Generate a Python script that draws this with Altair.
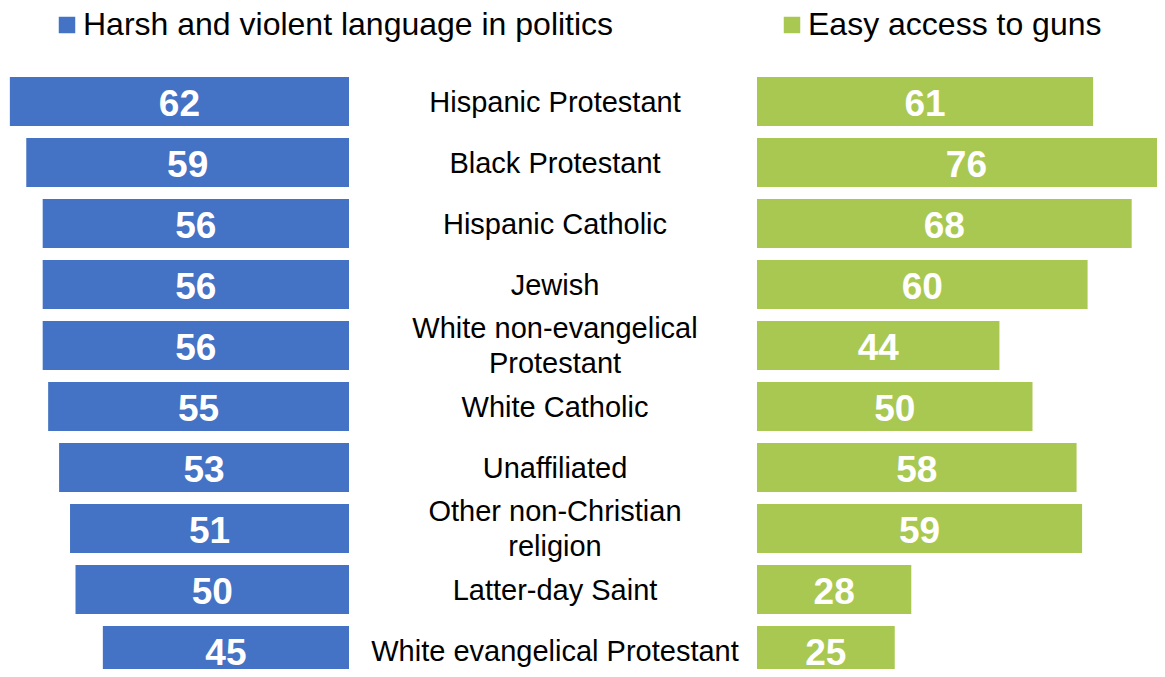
import altair as alt
import pandas as pd

groups = ["Hispanic Protestant", "Black Protestant", "Hispanic Catholic", "Jewish",
          "White non-evangelical\nProtestant", "White Catholic", "Unaffiliated",
          "Other non-Christian\nreligion", "Latter-day Saint", "White evangelical Protestant"]
harsh = [62, 59, 56, 56, 56, 55, 53, 51, 50, 45]
guns = [61, 76, 68, 60, 44, 50, 58, 59, 28, 25]
series = ["Harsh and violent language in politics", "Easy access to guns"]
colors = ["#4472C4", "#A9C851"]

F = "Liberation Sans"
PXL, PXR = 5.47, 5.51     # pixels per percentage point (left, right)
W, H = 1149, 598          # plot area
LEFT0, RIGHT0 = 341, 749  # zero lines of the two bar groups
TOP = 63
STEP = 61

df = pd.DataFrame({"group": groups, "harsh": harsh, "guns": guns,
                   "s1": series[0], "s2": series[1]})
df["multi"] = df["group"].str.contains("\n")

pin = 12 / STEP
y_enc = alt.Y("group:N", sort=groups, axis=None,
              scale=alt.Scale(paddingInner=pin, paddingOuter=pin / 2,
                              range=[0, STEP * len(groups)]))

xl = alt.Scale(domain=[-(W - LEFT0) / PXL, LEFT0 / PXL], reverse=True, zero=False, nice=False)
xr = alt.Scale(domain=[-RIGHT0 / PXR, (W - RIGHT0) / PXR], zero=False, nice=False)


def legend(x):
    return alt.Legend(orient="none", legendX=x, legendY=-TOP + 1, title=None,
                      symbolType="square", symbolSize=272, symbolStrokeWidth=0,
                      labelFont=F, labelFontSize=32, labelColor="black",
                      labelOffset=0, labelLimit=0, padding=0)


base = alt.Chart(df).transform_calculate(mid_l="datum.harsh / 2", mid_r="datum.guns / 2")

left_bars = base.mark_bar().encode(
    x=alt.X("harsh:Q", scale=xl, axis=None),
    y=y_enc,
    color=alt.Color("s1:N", scale=alt.Scale(domain=[series[0]], range=[colors[0]]),
                    legend=legend(43)),
)
left_text = base.mark_text(color="white", font=F, fontSize=37, fontWeight="bold",
                           baseline="middle", dy=3).encode(
    x=alt.X("mid_l:Q", scale=xl, axis=None), y=y_enc, text="harsh:Q")

right_bars = base.mark_bar().encode(
    x=alt.X("guns:Q", scale=xr, axis=None),
    y=y_enc,
    color=alt.Color("s2:N", scale=alt.Scale(domain=[series[1]], range=[colors[1]]),
                    legend=legend(768)),
)
right_text = base.mark_text(color="white", font=F, fontSize=37, fontWeight="bold",
                            baseline="middle", dy=3).encode(
    x=alt.X("mid_r:Q", scale=xr, axis=None), y=y_enc, text="guns:Q")

label_one = base.transform_filter("!datum.multi").mark_text(
    font=F, fontSize=29, color="black", baseline="middle", dy=1).encode(
    y=y_enc, x=alt.value(547), text="group:N")
label_two = base.transform_filter("datum.multi").mark_text(
    font=F, fontSize=29, lineHeight=35, lineBreak="\n", color="black",
    baseline="middle", dy=-16.5).encode(
    y=y_enc, x=alt.value(547), text="group:N")

chart = (
    alt.layer(left_bars, left_text, right_bars, right_text, label_one, label_two)
    .resolve_scale(x="independent", color="independent")
    .properties(width=W, height=H,
                autosize=alt.AutoSizeParams(type="none"),
                padding={"left": 0, "top": TOP, "right": 0, "bottom": 0})
    .configure_view(strokeWidth=0)
)

chart.save("out.html", embed_options={"renderer": "svg", "actions": False})
